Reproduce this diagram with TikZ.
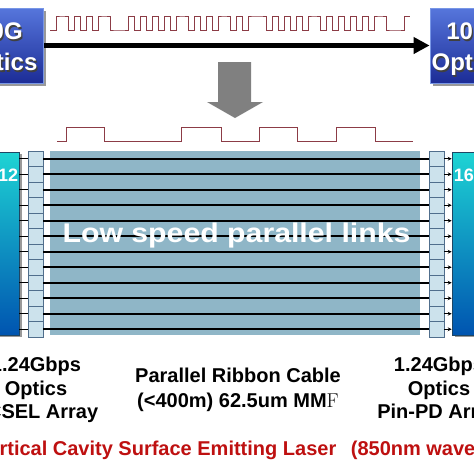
\documentclass[tikz,border=0pt]{standalone}
\usepackage{fontspec}
\setsansfont{Liberation Sans}
\usetikzlibrary{arrows.meta,shadows}
\definecolor{wavec}{RGB}{140,60,70}
\definecolor{ribbonc}{RGB}{143,182,199}
\definecolor{connfill}{RGB}{204,226,236}
\definecolor{connedge}{RGB}{80,110,140}
\definecolor{txtop}{RGB}{30,212,212}
\definecolor{txbot}{RGB}{0,84,176}
\definecolor{txedge}{RGB}{30,70,100}
\definecolor{boxtop}{RGB}{86,118,220}
\definecolor{boxbot}{RGB}{28,44,150}
\definecolor{boxedge}{RGB}{120,150,230}
\definecolor{laserc}{RGB}{190,16,16}
\definecolor{arrowgray}{RGB}{128,128,128}
\begin{document}
\begin{tikzpicture}[x=1pt,y=-1pt,
  optbox/.style={rectangle, minimum width=86pt, minimum height=75pt, inner sep=0pt,
    top color=boxtop, bottom color=boxbot, draw=boxedge, line width=0.8pt,
    drop shadow={shadow xshift=2.5pt, shadow yshift=-2.5pt, fill=black, opacity=0.4}},
  optlabel/.style={align=center, inner sep=0pt, text=white,
    font=\sffamily\bfseries\fontsize{24}{31}\selectfont},
  optshadow/.style={optlabel, text=black!75},
  bigarrow/.style={line width=5pt, -{Triangle[length=16pt,width=16pt]}, shorten <=1pt},
  wave/.style={draw=wavec, line width=0.9pt},
  downarrow/.style={fill=arrowgray},
  txbox/.style={rectangle, minimum width=80pt, minimum height=183pt, inner sep=0pt,
    top color=txtop, bottom color=txbot, draw=txedge, line width=0.6pt,
    drop shadow={shadow xshift=2.5pt, shadow yshift=-2pt, fill=black, opacity=0.4}},
  txlabel/.style={inner sep=0pt, text=white, font=\sffamily\bfseries\fontsize{18}{20}\selectfont},
  conn/.style={rectangle, minimum width=15pt, minimum height=15.5pt, inner sep=0pt,
    fill=connfill, draw=connedge, line width=0.6pt},
  fiber/.style={draw=black, line width=1.8pt},
  stub/.style={draw=black, line width=1pt},
  caption/.style={align=center, inner sep=0pt, font=\sffamily\bfseries\fontsize{20}{23.5}\selectfont},
  lowtext/.style={inner sep=0pt, text=white, font=\sffamily\bfseries\fontsize{27}{30}\selectfont},
  lasertext/.style={inner sep=0pt, text=laserc, font=\sffamily\bfseries\fontsize{20}{24}\selectfont}
]
\useasboundingbox (0,0) rectangle (474,474);
\clip (0,0) rectangle (474,474);

% top optics boxes
\node[optbox] (lbox) at (0,45.5) {};
\node[optbox] (rbox) at (473,45.5) {};
\node[optshadow] (lboxts) at ([shift={(1.3pt,-5.3pt)}]lbox.center) {10G\\Optics};
\node[optlabel] (lboxt) at ([shift={(0pt,-4pt)}]lbox.center) {10G\\Optics};
\node[optshadow] (rboxts) at ([shift={(-2.7pt,-5.3pt)}]rbox.center) {10G\\Optics};
\node[optlabel] (rboxt) at ([shift={(-4pt,-4pt)}]rbox.center) {10G\\Optics};

% serial link arrow
\draw[bigarrow] (lbox.east) -- (rbox.west);

% top waveform
\def\topbits{0,1,1,0,1,0,1,0,1,1,0,0,0,1,0,1,0,1,0,1,0,1,1,0,1,0,1,0,1,1,0,1,0,1,1,1,0,1,0,1,0,1,0,1,1,0,1,0,1,0,1,0,1,0,1,1,0,0,0,1}
\draw[wave] (50,30) \foreach \b [count=\i] in \topbits { |- ({50+6*\i},{30-14*\b}) };

% grey down arrow
\fill[downarrow] (218,62) -- (251,62) -- (251,102) -- (263,102) -- (235,118) -- (207,102) -- (218,102) -- cycle;

% lower waveform
\draw[wave] (57,141) -| (66,127) -| (104,141) -| (181,127) -| (221,141) -| (259,127) -| (297,141) -| (336,127) -| (375,141) -- (413,141);

% ribbon cable
\fill[ribbonc] (50,151) rectangle (420,335);

% transceivers
\node[txbox] (ltx) at (-21,243.5) {};
\node[txbox] (rtx) at (492,243.5) {};
\node[txlabel, anchor=north east] (ltxl) at ([shift={(-1pt,-17pt)}]ltx.north east) {12};
\node[txlabel, anchor=north west] (rtxl) at ([shift={(2pt,-17pt)}]rtx.north west) {16};

% connector arrays
\foreach \i in {0,...,11} {
  \node[conn] (lc\i) at (35.5,{158.75+15.5*\i}) {};
  \node[conn] (rc\i) at (436.5,{158.75+15.5*\i}) {};
}
\foreach \i in {0,...,11} {
  \draw[fiber] (lc\i.east) -- (rc\i.west);
  \draw[stub] (ltx.east |- lc\i.west) -- (lc\i.west);
  \draw[stub, -{Stealth[length=4pt,width=4pt]}] (rc\i.east) -- (rtx.west |- rc\i.east);
}

\node[lowtext, anchor=base] (lowspeed) at (236.5,242) {\scalebox{1.12}[1]{Low speed parallel links}};

% captions
\node[caption] (ltxt) at (36,390) {1.24Gbps\\Optics\\VCSEL Array};
\node[caption, font=\sffamily\bfseries\fontsize{20}{25}\selectfont] (mtxt) at (238,390.3) {Parallel Ribbon Cable\\(<400m) 62.5um MM{\rmfamily\mdseries F}};
\node[caption] (rtxt) at (439,390) {1.24Gbps\\Optics\\Pin-PD Array};
\node[lasertext, anchor=base west] (vcsel) at (-24,455) {Vertical Cavity Surface Emitting Laser\hspace{9pt} (850nm wavelength)};
\end{tikzpicture}
\end{document}
